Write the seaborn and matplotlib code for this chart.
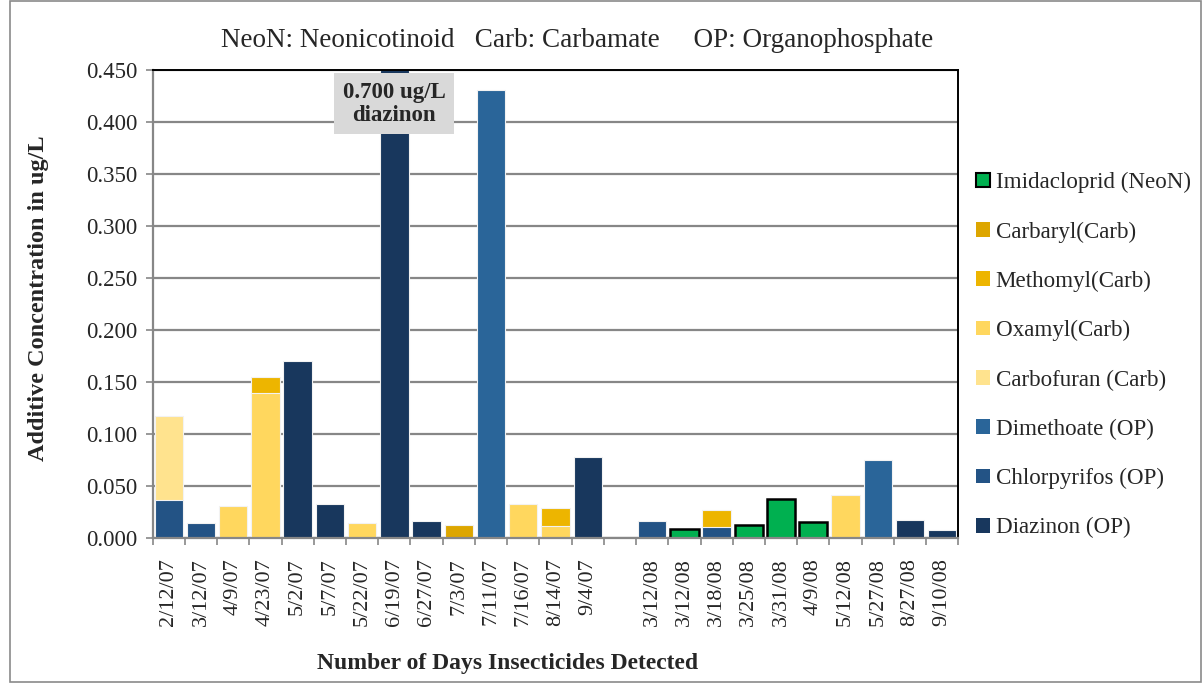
import numpy as np
import pandas as pd
import matplotlib
matplotlib.use("Agg")
import matplotlib.pyplot as plt
from matplotlib.patches import Patch, Rectangle
import seaborn as sns

# ---------------- data ----------------
dates = ["2/12/07", "3/12/07", "4/9/07", "4/23/07", "5/2/07", "5/7/07", "5/22/07",
         "6/19/07", "6/27/07", "7/3/07", "7/11/07", "7/16/07", "8/14/07", "9/4/07",
         "",
         "3/12/08", "3/12/08", "3/18/08", "3/25/08", "3/31/08", "4/9/08", "5/12/08",
         "5/27/08", "8/27/08", "9/10/08"]

# stacking order bottom -> top
series_names = ["Diazinon (OP)", "Chlorpyrifos (OP)", "Dimethoate (OP)", "Carbofuran (Carb)",
                "Oxamyl(Carb)", "Methomyl(Carb)", "Carbaryl(Carb)", "Imidacloprid (NeoN)"]

diazinon     = [0, 0, 0, 0, 0.170, 0.033, 0, 0.700, 0.017, 0, 0, 0, 0, 0.078,
                0, 0, 0, 0, 0, 0, 0, 0, 0, 0.018, 0.008]
chlorpyrifos = [0.037, 0.015, 0, 0, 0, 0, 0, 0, 0, 0, 0, 0, 0, 0,
                0, 0.017, 0, 0.011, 0, 0, 0, 0, 0, 0, 0]
dimethoate   = [0, 0, 0, 0, 0, 0, 0, 0, 0, 0, 0.430, 0, 0, 0,
                0, 0, 0, 0, 0, 0, 0, 0, 0.075, 0, 0]
carbofuran   = [0.081, 0, 0, 0, 0, 0, 0, 0, 0, 0, 0, 0, 0, 0,
                0, 0, 0, 0, 0, 0, 0, 0, 0, 0, 0]
oxamyl       = [0, 0, 0.031, 0.140, 0, 0, 0.015, 0, 0, 0, 0, 0.033, 0.012, 0,
                0, 0, 0, 0, 0, 0, 0, 0.042, 0, 0, 0]
methomyl     = [0, 0, 0, 0.015, 0, 0, 0, 0, 0, 0, 0, 0, 0.017, 0,
                0, 0, 0, 0.016, 0, 0, 0, 0, 0, 0, 0]
carbaryl     = [0, 0, 0, 0, 0, 0, 0, 0, 0, 0.013, 0, 0, 0, 0,
                0, 0, 0, 0, 0, 0, 0, 0, 0, 0, 0]
imidacloprid = [0, 0, 0, 0, 0, 0, 0, 0, 0, 0, 0, 0, 0, 0,
                0, 0, 0.009, 0, 0.013, 0.038, 0.016, 0, 0, 0, 0]

series_values = [diazinon, chlorpyrifos, dimethoate, carbofuran,
                 oxamyl, methomyl, carbaryl, imidacloprid]
series_colors = ["#18375D", "#235385", "#2A6599", "#FFE38E",
                 "#FFD75E", "#EDB500", "#DDA600", "#00B050"]

yticks = [0.0, 0.05, 0.10, 0.15, 0.20, 0.25, 0.30, 0.35, 0.40, 0.45]
title_text = "NeoN: Neonicotinoid   Carb: Carbamate     OP: Organophosphate"
note_text = "0.700 ug/L\ndiazinon"
ylabel = "Additive Concentration in ug/L"
xlabel = "Number of Days Insecticides Detected"

# ---------------- plot ----------------
sns.set_theme(style="white")
plt.rcParams["font.family"] = ["Liberation Serif", "DejaVu Serif"]

fig = plt.figure(figsize=(12.03, 6.83), dpi=100)
ax = fig.add_axes([0.1269, 0.2116, 0.6697, 0.6866])

n = len(dates)
slots = np.arange(n)
vals = np.array(series_values, dtype=float)
cum = np.cumsum(vals, axis=0)

# draw from top layer to bottom so lower segments overlay the cumulative bars
for k in range(len(series_names) - 1, -1, -1):
    mask = vals[k] > 0
    if not mask.any():
        continue
    df = pd.DataFrame({"slot": slots[mask], "h": cum[k][mask]})
    is_imid = series_names[k].startswith("Imidacloprid")
    sns.barplot(data=df, x="slot", y="h", order=list(slots), color=series_colors[k],
                saturation=1, width=0.88, errorbar=None, ax=ax,
                edgecolor="black" if is_imid else "#F2F2F2",
                linewidth=1.8 if is_imid else 0.8)

ax.set_xlim(-0.5, n - 0.5)
ax.set_ylim(0, 0.45)
ax.set_yticks(yticks)
ax.set_yticklabels([f"{v:.3f}" for v in yticks], fontsize=16.5)
ax.yaxis.grid(True, color="#878787", linewidth=1.6)
ax.set_axisbelow(True)

ax.set_xticks(slots)
ax.set_xticklabels(dates, rotation=90, fontsize=16)
ax.set_xticks(np.arange(-0.5, n, 1.0), minor=True)
ax.tick_params(axis="x", which="major", length=0, pad=14)
ax.tick_params(axis="x", which="minor", length=5, width=1.2, color="#878787", bottom=True)
ax.tick_params(axis="y", length=5, width=1.2, color="#878787", left=True, pad=6)
ax.set_xlabel("")
ax.set_ylabel("")

for side in ["left", "bottom"]:
    ax.spines[side].set_color("#878787")
    ax.spines[side].set_linewidth(1.6)
for side in ["top", "right"]:
    ax.spines[side].set_color("black")
    ax.spines[side].set_linewidth(1.4)

ax.text(7, 0.417, note_text, ha="center", va="center", fontsize=16.5, fontweight="bold",
        linespacing=1.1,
        bbox=dict(boxstyle="square,pad=0.38", facecolor="#D9D9D9", edgecolor="none"))

fig.text(0.48, 0.941, title_text, ha="center", va="center", fontsize=19.5)
fig.text(0.0316, 0.563, ylabel, rotation=90, ha="center", va="center",
         fontsize=17.5, fontweight="bold")
fig.text(0.422, 0.029, xlabel, ha="center", va="center", fontsize=17, fontweight="bold")

handles = []
labels = []
for k in range(len(series_names) - 1, -1, -1):
    is_imid = series_names[k].startswith("Imidacloprid")
    handles.append(Patch(facecolor=series_colors[k],
                         edgecolor="black" if is_imid else series_colors[k],
                         linewidth=1.5 if is_imid else 0))
    labels.append(series_names[k])
fig.legend(handles, labels, loc="upper left", bbox_to_anchor=(0.8113, 0.748),
           frameon=False, fontsize=16.6, handlelength=0.6, handleheight=0.6,
           handletextpad=0.25, labelspacing=1.22, borderaxespad=0, borderpad=0)

fig.patches.append(Rectangle((10 / 1203, 1 / 683), 1191 / 1203, 681 / 683,
                             transform=fig.transFigure, fill=False,
                             edgecolor="#8A8A8A", linewidth=1.2))

fig.savefig("out.png", dpi=100)
